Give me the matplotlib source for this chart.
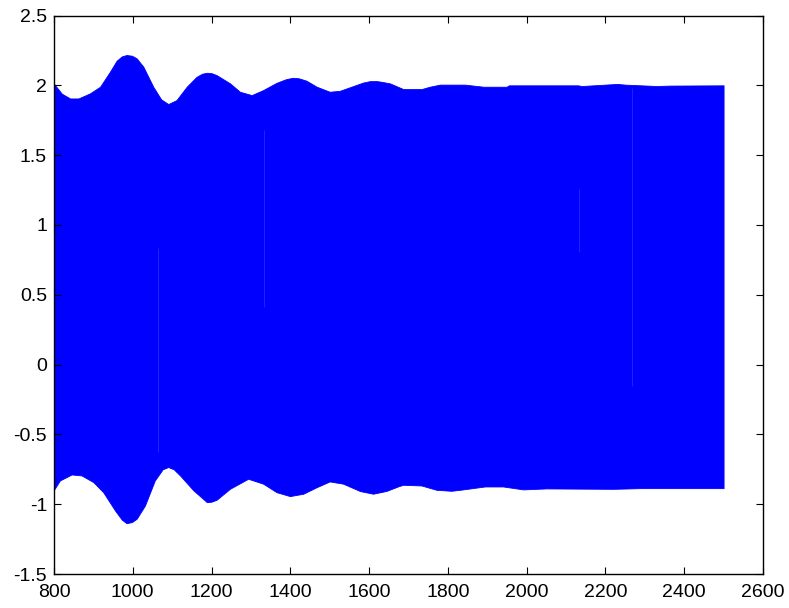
import numpy as np
import matplotlib.pyplot as plt

plt.rcParams['font.family'] = ['Liberation Sans', 'DejaVu Sans']

# upper envelope of the signal (t, value)
t_up = [800, 820, 841, 862, 891, 917, 942, 959, 972, 984, 998, 1010, 1027,
        1052, 1072, 1090, 1111, 1137, 1162, 1176, 1188, 1200, 1213, 1247, 1272,
        1302, 1331, 1365, 1390, 1407, 1422, 1441, 1467, 1500, 1526, 1560, 1585,
        1602, 1620, 1630, 1653, 1687, 1733, 1754, 1780, 1843, 1890, 1949, 1955,
        2130, 2140, 2230, 2250, 2330, 2363, 2500]
y_up = [2.011, 1.94, 1.906, 1.906, 1.942, 1.99, 2.097, 2.176, 2.207, 2.217,
        2.212, 2.193, 2.133, 1.99, 1.9, 1.866, 1.894, 1.99, 2.061, 2.083, 2.09,
        2.087, 2.073, 2.014, 1.954, 1.93, 1.966, 2.018, 2.045, 2.054, 2.05,
        2.033, 1.99, 1.954, 1.961, 1.995, 2.02, 2.03, 2.03, 2.026, 2.014,
        1.973, 1.973, 1.99, 2.005, 2.005, 1.99, 1.99, 2.0, 2.0, 1.995, 2.01,
        2.005, 1.995, 1.998, 2.0]

# lower envelope of the signal (t, value)
t_lo = [800, 815, 845, 870, 900, 925, 955, 972, 984, 998, 1010, 1031, 1056,
        1076, 1090, 1104, 1120, 1154, 1188, 1200, 1213, 1247, 1293, 1331, 1365,
        1399, 1433, 1467, 1500, 1534, 1577, 1610, 1644, 1676, 1687, 1733, 1771,
        1809, 1839, 1894, 1940, 1991, 2050, 2220, 2290, 2433, 2500]
y_lo = [-0.897, -0.83, -0.787, -0.794, -0.842, -0.914, -1.045, -1.11, -1.136,
        -1.128, -1.104, -1.009, -0.83, -0.75, -0.734, -0.75, -0.794, -0.901,
        -0.985, -0.982, -0.968, -0.889, -0.818, -0.853, -0.914, -0.942, -0.925,
        -0.878, -0.837, -0.853, -0.906, -0.925, -0.905, -0.87, -0.861, -0.866,
        -0.897, -0.904, -0.894, -0.873, -0.873, -0.894, -0.887, -0.89, -0.885,
        -0.885, -0.885]

# thin sampling gaps in the trace: t, bottom, top
gap_t = [1065, 1334, 2133, 2268]
gap_lo = [-0.629, 0.411, 0.804, -0.15]
gap_hi = [0.833, 1.679, 1.256, 1.98]

t = np.array(sorted(set(t_up + t_lo)), dtype=float)
upper = np.interp(t, t_up, y_up)
lower = np.interp(t, t_lo, y_lo)

fig = plt.figure(figsize=(7.89, 6.08), dpi=100)
ax = fig.add_axes([0.0684, 0.0559, 0.8986, 0.9186])

ax.fill_between(t, lower, upper, color='#0000ff', linewidth=0.6, edgecolor='#0000ff')
ax.vlines(gap_t, gap_lo, gap_hi, color='#2828ff', linewidth=0.6)

ax.set_xlim(800, 2600)
ax.set_ylim(-1.5, 2.5)
ax.set_xticks(np.arange(800, 2601, 200))
ax.set_yticks(np.arange(-1.5, 2.51, 0.5))
ax.set_yticklabels(['-1.5', '-1', '-0.5', '0', '0.5', '1', '1.5', '2', '2.5'])

ax.tick_params(direction='in', length=5, width=0.8, labelsize=14,
               top=True, right=True, pad=5)
ax.tick_params(axis='x', pad=7)
for s in ax.spines.values():
    s.set_linewidth(1.0)

fig.savefig('out.png', dpi=100)
